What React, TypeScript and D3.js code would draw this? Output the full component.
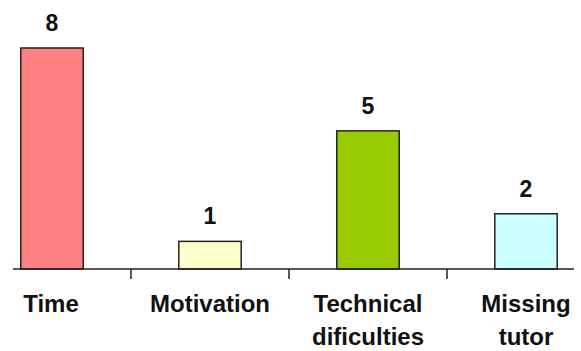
import React, { useRef, useEffect } from 'react';
import * as d3 from 'd3';

const categories = ['Time', 'Motivation', 'Technical dificulties', 'Missing tutor'];
const labelLines = [['Time'], ['Motivation'], ['Technical', 'dificulties'], ['Missing', 'tutor']];
const values = [8, 1, 5, 2];
const colors = ['#FF8080', '#FFFFCC', '#99CC00', '#CCFFFF'];

const WIDTH = 581;
const HEIGHT = 351;

const App: React.FC = () => {
  const svgRef = useRef<SVGSVGElement>(null);

  useEffect(() => {
    if (!svgRef.current) return;
    const svg = d3.select(svgRef.current);
    svg.selectAll('*').remove();

    const font = '"Liberation Sans", Arial, sans-serif';
    const baseY = 269;

    // category centres, step ~158px
    const x = d3.scalePoint<string>().domain(categories).range([-27, 605]).padding(0.5);
    const step = x.step();
    const barW = step * 0.395;

    const y = d3.scaleLinear().domain([0, 8]).range([baseY, 48]);

    svg.append('rect').attr('width', WIDTH).attr('height', HEIGHT).attr('fill', '#ffffff');

    // bars
    categories.forEach((c, i) => {
      const cx = x(c)!;
      svg.append('rect')
        .attr('x', cx - barW / 2)
        .attr('y', y(values[i]))
        .attr('width', barW)
        .attr('height', baseY - y(values[i]))
        .attr('fill', colors[i])
        .attr('stroke', '#222')
        .attr('stroke-width', 1.5);

      svg.append('text')
        .attr('x', cx)
        .attr('y', y(values[i]) - 17)
        .attr('text-anchor', 'middle')
        .attr('font-family', font)
        .attr('font-weight', 'bold')
        .attr('font-size', '23px')
        .attr('fill', '#111')
        .text(values[i]);

      const t = svg.append('text')
        .attr('text-anchor', 'middle')
        .attr('font-family', font)
        .attr('font-weight', 'bold')
        .attr('font-size', '24px')
        .attr('fill', '#111');
      labelLines[i].forEach((line, j) => {
        t.append('tspan')
          .attr('x', cx + (i === 0 ? -1 : 0))
          .attr('y', 312 + j * 33)
          .text(line);
      });
    });

    // x axis line + ticks between categories
    svg.append('line')
      .attr('x1', 13).attr('x2', 574)
      .attr('y1', baseY).attr('y2', baseY)
      .attr('stroke', '#222').attr('stroke-width', 1.5);

    categories.slice(1).forEach((c) => {
      const tx = x(c)! - step / 2;
      svg.append('line')
        .attr('x1', tx).attr('x2', tx)
        .attr('y1', baseY).attr('y2', baseY + 10)
        .attr('stroke', '#222').attr('stroke-width', 1.5);
    });
  }, []);

  return (
    <svg
      ref={svgRef}
      width={WIDTH}
      height={HEIGHT}
      style={{ position: 'absolute', left: 0, top: 0, display: 'block' }}
    />
  );
};

export default App;
